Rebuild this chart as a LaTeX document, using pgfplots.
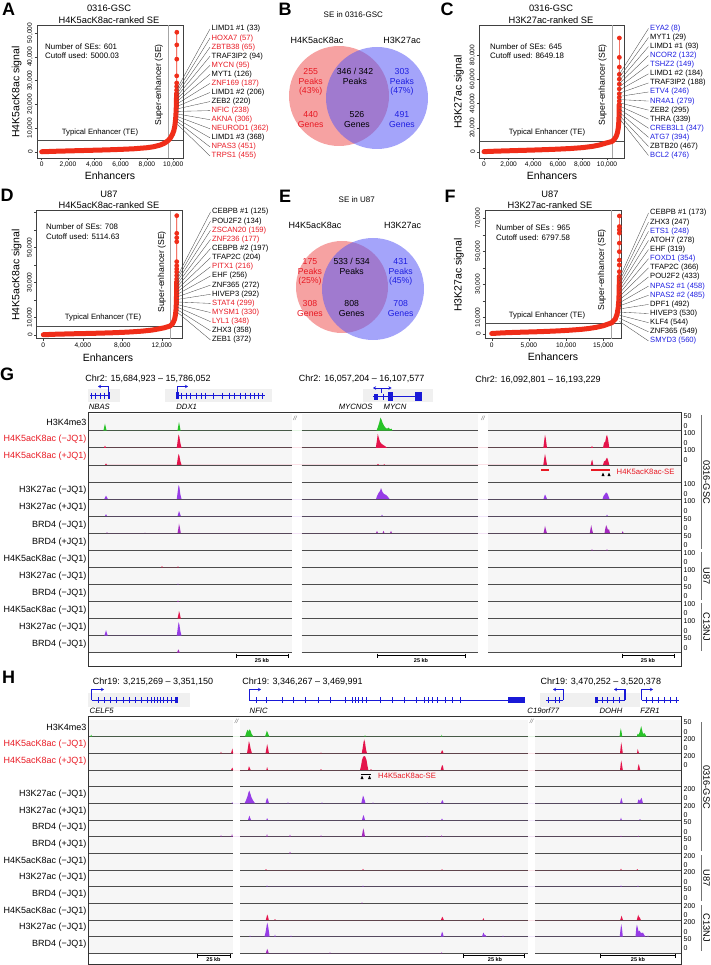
\documentclass[border=0pt]{standalone}
\usepackage{fontspec}
\setmainfont{Liberation Sans}
\usepackage{pgfplots}
\pgfplotsset{compat=1.18}
\usetikzlibrary{arrows.meta}
\newcommand{\fs}[1]{\fontsize{#1}{#1}\selectfont}
\definecolor{cK4}{RGB}{40,195,40}
\definecolor{cH4}{RGB}{228,20,75}
\definecolor{cK27}{RGB}{150,60,230}
\definecolor{cBR}{RGB}{165,40,190}
\definecolor{lred}{RGB}{232,25,35}
\definecolor{lblue}{RGB}{30,30,225}
\definecolor{rk}{RGB}{240,45,25}
\definecolor{gb}{RGB}{25,25,215}
\definecolor{vred}{RGB}{240,100,100}
\definecolor{vblue}{RGB}{90,90,245}
\definecolor{trbg}{RGB}{246,246,246}
\pgfplotsset{rankax/.style={scale only axis, anchor=south west,
  axis line style={black!75, line width=0.5pt},
  tick style={black!75, line width=0.4pt},
  tick align=outside, major tick length=2.5pt,
  xtick pos=left, ytick pos=left, scaled ticks=false,
  tick label style={font=\fs{6.6}},
  yticklabel style={rotate=90, anchor=south, inner sep=1.5pt},
  xticklabel style={inner sep=1.5pt}}}
\newcommand{\trk}[3]{\addplot[draw=none, fill=#1] table[row sep=\\, y expr=\thisrowno{1}-#2] {#3};}
\begin{document}
\begin{tikzpicture}
\useasboundingbox (0,0) rectangle (710pt,-965pt);
% ---------- track backgrounds ----------
\begin{scope}[x=1pt,y=-1pt]
\foreach \a/\b in {88.3/291.7, 301.7/478.3, 488.3/681.7} {
  \fill[trbg] (\a,413.6) rectangle (\b,652.7);
  \foreach \i in {0,...,13} \draw[black!70, line width=0.7pt] (\a,{430.7+17.08*\i}) -- (\b,{430.7+17.08*\i});
}
\foreach \a/\b in {88.3/233.3, 240/528.3, 535/681.7} {
  \fill[trbg] (\a,720) rectangle (\b,953.3);
  \foreach \i in {0,...,13} \draw[black!70, line width=0.7pt] (\a,{736.7+16.66*\i}) -- (\b,{736.7+16.66*\i});
}
\fill[black!6] (88,389) rectangle (120,402);
\fill[black!6] (165,389) rectangle (272,402);
\fill[black!6] (363,389) rectangle (433,402);
\fill[black!6] (88,693) rectangle (190,707);
\fill[black!6] (540,693) rectangle (640,707);
\end{scope}
% ---------- A ----------
\begin{axis}[rankax, at={(37pt,-158pt)}, width=146pt, height=133pt,
  xmin=-357, xmax=10746, ymin=-2520, ymax=53360,
  xtick={0,2000,4000,6000,8000,10000}, xticklabels={0,{2,000},{4,000},{6,000},{8,000},{10,000}},
  ytick={0,10000,20000,30000,40000,50000}, yticklabels={0,{10,000},{20,000},{30,000},{40,000},{50,000}}]
\addplot[black!70, line width=0.5pt] coordinates {(-357,5000)(10746,5000)};
\addplot[black!35, line width=0.5pt] coordinates {(9620,-2520)(9620,53360)};
\addplot[rk, line width=5pt, line join=round, line cap=round] coordinates {(0,100)(1000,300)(2000,450)(3000,600)(4000,750)(5000,900)(6000,1100)(7000,1350)(8000,1800)(8500,2200)(9000,2900)(9300,3600)(9500,4300)(9650,5000)(9800,6000)(9950,7500)(10050,9000)(10120,10800)(10170,13000)(10200,15000)(10220,17000)(10235,19000)(10245,21000)(10252,23000)(10257,24500)};
\addplot[rk, line width=0.7pt, mark=*, mark size=2pt, mark options={fill=rk,draw=rk}] coordinates {(10257,24500)(10260,26000)(10263,27500)(10265,29000)(10268,32000)(10271,39000)(10273,45000)(10275,50300)};
\end{axis}
% ---------- C ----------
\begin{axis}[rankax, at={(479.3pt,-158pt)}, width=144.7pt, height=133pt,
  xmin=-382, xmax=11382, ymin=-4950, ymax=104700,
  xtick={0,2000,4000,6000,8000,10000}, xticklabels={0,{2,000},{4,000},{6,000},{8,000},{10,000}},
  ytick={0,20000,40000,60000,80000}, yticklabels={0,{20,000},{40,000},{60,000},{80,000}}]
\addplot[black!70, line width=0.5pt] coordinates {(-382,8649)(11382,8649)};
\addplot[black!35, line width=0.5pt] coordinates {(10400,-4950)(10400,104700)};
\addplot[rk, line width=5pt, line join=round, line cap=round] coordinates {(0,300)(1000,700)(2000,1000)(3000,1300)(4000,1600)(5000,1950)(6000,2350)(7000,2850)(8000,3600)(8800,4600)(9400,5800)(9900,7300)(10400,8650)(10600,10500)(10750,13000)(10850,16000)(10920,20000)(10960,25000)(10980,30000)(10990,35000)(10995,39000)};
\addplot[rk, line width=0.7pt, mark=*, mark size=2pt, mark options={fill=rk,draw=rk}] coordinates {(10995,39000)(10996,42000)(10997,45000)(10998,48000)(10999,52000)(11000,56000)(11001,60000)(11002,64000)(11003,70000)(11004,78000)(11005,94000)};
\end{axis}
% ---------- D ----------
\begin{axis}[rankax, at={(36.7pt,-338.5pt)}, width=146pt, height=128pt,
  xmin=-670, xmax=14120, ymin=-2000, ymax=71140,
  xtick={0,4000,8000,12000}, xticklabels={0,{4,000},{8,000},{12,000}},
  ytick={0,10000,20000,30000,40000,50000,60000,70000}, yticklabels={0,{10,000},,{30,000},,{50,000},,}]
\addplot[black!70, line width=0.5pt] coordinates {(-670,5114)(14120,5114)};
\addplot[black!35, line width=0.5pt] coordinates {(12830,-2000)(12830,71140)};
\addplot[rk, line width=5pt, line join=round, line cap=round] coordinates {(0,150)(1000,400)(2000,550)(3000,700)(4000,820)(5000,950)(6000,1100)(7000,1280)(8000,1500)(9000,1800)(10000,2200)(11000,2800)(11700,3500)(12300,4200)(12830,5114)(13100,6500)(13300,9000)(13400,12000)(13450,15000)(13480,19000)(13495,23000)(13503,27000)(13508,30300)};
\addplot[rk, line width=0.7pt, mark=*, mark size=2pt, mark options={fill=rk,draw=rk}] coordinates {(13508,30300)(13509,32000)(13510,34000)(13511,36000)(13512,37700)(13513,39600)(13514,41900)(13515,53300)(13516,55600)(13517,58100)(13518,68200)};
\end{axis}
% ---------- F ----------
\begin{axis}[rankax, at={(485pt,-338.5pt)}, width=136.7pt, height=128pt,
  xmin=-900, xmax=17470, ymin=-2720, ymax=74710,
  xtick={0,5000,10000,15000}, xticklabels={0,{5,000},{10,000},{15,000}},
  ytick={0,10000,20000,30000,40000,50000,60000,70000}, yticklabels={0,{10,000},,{30,000},,{50,000},,{70,000}}]
\addplot[black!70, line width=0.5pt] coordinates {(-900,6798)(17470,6798)};
\addplot[black!35, line width=0.5pt] coordinates {(16130,-2720)(16130,74710)};
\addplot[rk, line width=5pt, line join=round, line cap=round] coordinates {(0,300)(1500,700)(3000,950)(4500,1150)(6000,1350)(7500,1600)(9000,1900)(10500,2300)(12000,2800)(13000,3300)(14000,4000)(15000,5000)(16130,6800)(16600,9000)(16850,12000)(17000,16000)(17080,20000)(17120,25000)(17140,30000)(17148,34700)};
\addplot[rk, line width=0.7pt, mark=*, mark size=2pt, mark options={fill=rk,draw=rk}] coordinates {(17148,34700)(17149,37700)(17150,41700)(17151,44700)(17152,49800)(17153,55000)(17154,61000)(17155,63000)(17156,65000)(17157,71400)};
\end{axis}
% ---------- overlay axis: Venn + tracks ----------
\begin{axis}[hide axis, scale only axis, at={(0pt,0pt)}, anchor=north west, width=710pt, height=965pt,
  xmin=0, xmax=710, ymin=-965, ymax=0, clip=false]
\fill[vred, fill opacity=0.6] (axis cs:339,-96) circle[radius=50];
\fill[vblue, fill opacity=0.55] (axis cs:377,-98) circle[radius=51];
\fill[vred, fill opacity=0.6] (axis cs:342,-287) circle[radius=46];
\fill[vblue, fill opacity=0.55] (axis cs:373,-289) circle[radius=51];
% G tracks
\trk{cK4}{430.7}{103.4 0\\104.3 4.2\\105 7\\105.7 4\\106.6 0\\177.4 0\\178.3 5\\179 8.5\\179.7 5\\180.6 0\\376.5 0\\378 4\\379.5 9\\380.5 13\\381.5 11\\382.5 8\\384 5\\385.5 3\\387 2\\388.5 3\\390 1.5\\391.5 2\\392.5 0\\}
\trk{cH4}{447.8}{104 0\\105 2.3\\106 0\\176.8 0\\177.8 8\\178.6 13.5\\179.4 11\\180.3 5\\181.5 0\\375.8 0\\377 8\\377.8 14\\378.8 10\\380 6\\381.5 4\\383 3\\384.5 2\\386 1\\387 0\\543.3 0\\544.3 8\\545 13\\545.8 9\\547 0\\591 0\\592 2\\593 0\\603 0\\604 5\\605.2 6\\606.2 11\\607 13\\608 9\\609.3 0\\}
\trk{cH4}{464.9}{105 0\\106 1.5\\107 0\\176.8 0\\177.8 7\\178.6 11\\179.4 9\\180.3 4\\181.5 0\\377 0\\378 1\\379 0\\383.5 0\\384.3 0.7\\385 0\\543.3 0\\544.3 7\\545 11\\545.8 7\\547 0\\590.8 0\\591.6 4\\592.3 5\\593.2 0\\603 0\\604 3.5\\605.2 4\\606.2 6\\607 7.3\\608 5\\609.3 0\\}
\trk{cK27}{499.0}{104.3 0\\105.3 2\\106 3.3\\106.8 2\\107.8 0\\176.8 0\\177.8 8\\178.6 14\\179.4 12\\180.3 5\\181.5 0\\376 0\\377 3\\378.5 6\\380 8\\381 11\\382.5 7\\384 5\\386 4\\388 2\\389.5 0\\543.5 0\\544.4 3\\545 4.5\\545.8 3\\547 0\\602.5 0\\603.5 3\\605 5\\606 6.5\\607 6\\608 4\\609.5 0\\}
\trk{cK27}{516.1}{105 0\\106 2\\107 0\\177.5 0\\178.4 3\\179 5\\179.8 3\\180.8 0\\381.2 0\\382 1.5\\382.8 0\\606.2 0\\607 1.5\\607.8 0\\}
\trk{cBR}{533.2}{106.2 0\\107 1\\107.8 0\\144.3 0\\145 0.7\\145.7 0\\177.5 0\\178.4 5\\179 9.5\\179.8 6\\180.8 0\\376 0\\377 2.3\\378 0\\382.5 0\\383.5 2.3\\384.5 0\\390 0\\391 2.3\\392 0\\543.5 0\\544.4 4\\545 7.3\\545.8 4\\547 0\\589.8 0\\590.6 5\\591.2 8\\592 4\\593 0\\604.5 0\\605.4 5\\606.2 8\\607 6\\608 3\\609 4\\610 0\\621.8 0\\622.7 2\\623.6 0\\}
\trk{cBR}{550.3}{591.2 0\\592 1\\592.8 0\\606.2 0\\607 1\\607.8 0\\}
\trk{cH4}{567.3}{161.2 0\\162 1.2\\162.8 0\\177.2 0\\178 1\\178.8 0\\}
\trk{cK27}{584.4}{177.2 0\\178 0.8\\178.8 0\\}
\trk{cBR}{601.5}{177.2 0\\178 0.8\\178.8 0\\}
\trk{cH4}{618.6}{177.5 0\\178.4 4\\179 7.5\\179.8 5\\180.8 0\\}
\trk{cK27}{635.7}{104.3 0\\105.3 3\\106 5.5\\106.8 3\\107.8 0\\176.8 0\\177.8 8\\178.6 13.5\\179.4 11\\180.3 5\\181.5 0\\}
\trk{cBR}{652.7}{177 0\\177.8 2\\178.4 3.3\\179.2 1.5\\180 0\\}
% H tracks
\trk{cK4}{736.7}{90.2 0\\91.2 2\\92.2 0\\245 0\\246 3\\247 6\\247.8 7\\248.6 5\\249.5 7.3\\250.5 6\\251.5 3\\253.5 0\\265 0\\266 3\\266.8 6\\267.6 4.5\\268.5 2\\269.5 0\\364.3 0\\365 1.5\\365.7 0\\441 0\\441.7 2\\442.4 0\\619.5 0\\620.2 5\\620.8 8.3\\621.5 5\\622.3 0\\636.8 0\\637.6 3\\638.4 2\\639.5 4\\640.5 8\\641.2 10.5\\642 7\\643 3\\644.5 3.5\\645.5 2\\646.5 0\\}
\trk{cH4}{753.4}{220.3 0\\221 1.5\\221.7 0\\231 0\\231.8 3\\232.4 5\\233.2 0\\247 0\\248 6\\248.9 12.5\\249.8 9\\250.8 4\\252 0\\265.5 0\\266.4 5\\267.1 9.3\\267.9 6\\269 0\\320.3 0\\321 1\\321.7 0\\361.7 0\\362.6 5\\363.5 11\\364.2 14\\365 11\\366 4\\367 0\\440.7 0\\441.5 2\\442.1 3.3\\442.9 2\\443.6 0\\620 0\\620.6 6\\621.2 11\\621.9 7\\622.8 0\\637 0\\637.7 4.5\\638.4 2\\639.2 0\\}
\trk{cH4}{770.0}{231 0\\231.8 1.5\\232.4 2.5\\233.2 0\\248 0\\248.9 3.7\\249.8 2\\250.6 0\\266.3 0\\267.1 3\\268 0\\320.3 0\\321 1\\321.7 0\\360 0\\361 4\\362 10\\363 13\\364 14\\365.2 13.5\\366.5 10\\367.5 4\\368.3 0\\370.3 0\\371 1\\371.7 0\\440.7 0\\441.5 3\\442.1 5\\442.9 4\\443.7 0\\620 0\\620.6 5\\621.2 9.5\\621.9 6\\622.8 0\\637.5 0\\638.2 4\\638.8 6\\639.5 3\\640.3 0\\}
\trk{cK27}{803.3}{231.5 0\\232.2 1\\232.9 0\\244.5 0\\246 3\\247.5 7\\248.5 11\\249.3 12.7\\250.2 10\\251.5 6\\253 3\\255 0\\265.5 0\\266.4 3.5\\267.1 5.5\\267.9 4\\269 0\\287.3 0\\288 1\\288.7 0\\321.3 0\\322 1\\322.7 0\\361.3 0\\362.2 4\\363 7.7\\363.8 6\\364.7 3\\365.5 0\\372.3 0\\373 1\\373.7 0\\426.7 0\\427.3 0.7\\428 0\\440.9 0\\441.7 2\\442.3 3.3\\443 2\\443.8 0\\620 0\\620.7 3\\621.3 5.5\\622 3\\622.8 0\\637.4 0\\638.2 3\\638.8 4\\639.6 2.5\\640.4 3.5\\641.3 5.5\\642 4\\643 0\\}
\trk{cK27}{820.0}{248 0\\248.8 2.5\\249.4 4.3\\250.2 2\\251 0\\266.3 0\\267.1 2\\268 0\\362 0\\362.8 3\\363.4 5\\364.2 3\\365 0\\441.2 0\\442 1.5\\442.8 0\\620.2 0\\621 2.5\\621.8 0\\639.3 0\\640 1\\640.7 0\\}
\trk{cBR}{836.7}{220.3 0\\221 1.5\\221.7 0\\231.3 0\\232 2.5\\232.8 0\\266.2 0\\267 2.5\\267.8 0\\289.2 0\\290 2\\290.8 0\\320.3 0\\321 1.5\\321.7 0\\361.7 0\\362.5 4\\363.2 8.3\\364 6\\365 0\\426.3 0\\427 1\\427.7 0\\441 0\\441.7 1.5\\442.4 0\\620.3 0\\621 1\\621.7 0\\637.6 0\\638.3 1\\639 0\\}
\trk{cBR}{853.3}{289.2 0\\290 1.5\\290.8 0\\}
\trk{cH4}{870.0}{265.3 0\\266 1\\266.7 0\\362.3 0\\363 1.2\\363.7 0\\441.3 0\\442 0.8\\442.7 0\\620.3 0\\621 1.5\\621.7 0\\636.6 0\\637.3 1\\638 0\\}
\trk{cK27}{886.6}{266.3 0\\267 1.2\\267.7 0\\362.3 0\\363 1\\363.7 0\\620.3 0\\621 1.2\\621.7 0\\637.3 0\\638 1\\638.7 0\\}
\trk{cBR}{903.3}{361.3 0\\362 1\\362.7 0\\}
\trk{cH4}{920.0}{265.8 0\\266.6 3\\267.2 5.5\\268 3.5\\268.8 0\\274.3 0\\275 1\\275.7 0\\440.9 0\\441.7 2\\442.3 3.3\\443 2\\443.8 0\\482.6 0\\483.4 2\\484.1 0\\620.2 0\\621 2.5\\621.5 4.3\\622.3 2\\623 0\\636.8 0\\637.6 3\\638.2 5.3\\639 3\\640 2\\640.8 0\\}
\trk{cK27}{936.6}{249.3 0\\250 1\\250.7 0\\264.5 0\\265.5 4\\266.5 10\\267.2 14\\268 11\\268.8 6\\269.6 0\\274.3 0\\275 2\\275.7 0\\290.3 0\\291 1\\291.7 0\\440.7 0\\441.5 3\\442.1 5\\442.9 3\\443.7 0\\482 0\\482.8 2.5\\483.5 4\\484.3 2\\485.5 1.5\\486.5 0\\502.3 0\\503 1\\503.7 0\\619.7 0\\620.5 7\\621.2 12.5\\622 8\\622.8 0\\635.5 0\\636.2 8\\636.9 12\\637.7 9\\638.6 5\\639.7 6\\640.6 4\\642 3.5\\643 4\\644 2\\645.5 0\\647.3 0\\648 1\\648.7 0\\}
\trk{cBR}{953.3}{265.8 0\\266.6 2.5\\267.2 4.5\\268 2.5\\268.8 0\\329.3 0\\330 1\\330.7 0\\441 0\\441.7 1\\442.4 0\\}
\end{axis}
% ---------- annotations ----------
\begin{scope}[x=1pt,y=-1pt, every node/.style={inner sep=0pt}]
\foreach \L/\x/\y in {A/8.5/9, B/285/9, C/447/9, D/7/195, E/285/196, F/450/196, G/7/374, H/8.5/677}
  \node[font=\fs{18}\bfseries] at (\x,\y) {\L};
% rank titles
\node[font=\fs{9.3}] at (109,8.5) {0316-GSC};
\node[font=\fs{9.3}] at (109,20) {H4K5acK8ac-ranked SE};
\node[font=\fs{9.3}] at (551,8.5) {0316-GSC};
\node[font=\fs{9.3}] at (551,20) {H3K27ac-ranked SE};
\node[font=\fs{9.3}] at (109,194) {U87};
\node[font=\fs{9.3}] at (109,205.5) {H4K5acK8ac-ranked SE};
\node[font=\fs{9.3}] at (550,194) {U87};
\node[font=\fs{9.3}] at (550,205.5) {H3K27ac-ranked SE};
\node[font=\fs{10.5}, rotate=90] at (16.7,92) {H4K5acK8ac signal};
\node[font=\fs{10.5}, rotate=90] at (459,92) {H3K27ac signal};
\node[font=\fs{10.5}, rotate=90] at (16.7,275) {H4K5acK8ac signal};
\node[font=\fs{10.5}, rotate=90] at (459,275) {H3K27ac signal};
\node[font=\fs{10.5}] at (110,175.5) {Enhancers};
\node[font=\fs{10.5}] at (552,175.5) {Enhancers};
\node[font=\fs{10.5}] at (108,357.5) {Enhancers};
\node[font=\fs{10.5}] at (553,357) {Enhancers};
\node[anchor=west, font=\fs{7.9}] at (45,46.5) {Number of SEs: 601};
\node[anchor=west, font=\fs{7.9}] at (45,55.5) {Cutoff used: 5000.03};
\node[anchor=west, font=\fs{7.9}] at (490,46.5) {Number of SEs: 645};
\node[anchor=west, font=\fs{7.9}] at (490,55.5) {Cutoff used: 8649.18};
\node[anchor=west, font=\fs{7.9}] at (46,227) {Number of SEs: 708};
\node[anchor=west, font=\fs{7.9}] at (46,237) {Cutoff used: 5114.63};
\node[anchor=west, font=\fs{7.9}] at (496,227.3) {Number of SEs : 965};
\node[anchor=west, font=\fs{7.9}] at (496,237.7) {Cutoff used: 6797.58};
\node[font=\fs{7.7}] at (100,132.5) {Typical Enhancer (TE)};
\node[font=\fs{7.7}] at (547,133) {Typical Enhancer (TE)};
\node[font=\fs{7.7}] at (103,318) {Typical Enhancer (TE)};
\node[font=\fs{7.7}] at (547,315.3) {Typical Enhancer (TE)};
\node[font=\fs{8.6}, rotate=90] at (159,85) {Super-enhancer (SE)};
\node[font=\fs{8.6}, rotate=90] at (602.7,85) {Super-enhancer (SE)};
\node[font=\fs{8.6}, rotate=90] at (162,272) {Super-enhancer (SE)};
\node[font=\fs{8.6}, rotate=90] at (602,270) {Super-enhancer (SE)};
% label lists
\foreach \t/\c [count=\k from 0] in {LIMD1 \#1 (33)/black, HOXA7 (57)/lred, ZBTB38 (65)/lred, TRAF3IP2 (94)/black, MYCN (95)/lred, MYT1 (126)/black, ZNF169 (187)/lred, LIMD1 \#2 (206)/black, ZEB2 (220)/black, NFIC (238)/lred, AKNA (306)/lred, NEUROD1 (362)/lred, LIMD1 \#3 (368)/black, NPAS3 (451)/lred, TRPS1 (455)/lred} {
  \node[anchor=west, font=\fs{7.6}, text=\c] at (211.5,{29+9.07*\k}) {\t};
  \draw[black!70, line width=0.35pt] (210,{29+9.07*\k}) -- (177.5,{88+2.6*\k});
}
\foreach \t/\c [count=\k from 0] in {EYA2 (8)/lblue, MYT1 (29)/black, LIMD1 \#1 (93)/black, NCOR2 (132)/lblue, TSHZ2 (149)/lblue, LIMD1 \#2 (184)/black, TRAF3IP2 (188)/black, ETV4 (246)/lblue, NR4A1 (279)/lblue, ZEB2 (295)/black, THRA (339)/black, CREB3L1 (347)/lblue, ATG7 (394)/lblue, ZBTB20 (467)/black, BCL2 (476)/lblue} {
  \node[anchor=west, font=\fs{7.6}, text=\c] at (650,{28.5+9.07*\k}) {\t};
  \draw[black!70, line width=0.35pt] (648.5,{28.5+9.07*\k}) -- (619.5,{74+3.2*\k});
}
\foreach \t/\c [count=\k from 0] in {CEBPB \#1 (125)/black, POU2F2 (134)/black, ZSCAN20 (159)/lred, ZNF236 (177)/lred, CEBPB \#2 (197)/black, TFAP2C (204)/black, PITX1 (216)/lred, EHF (256)/black, ZNF365 (272)/black, HIVEP3 (292)/black, STAT4 (299)/lred, MYSM1 (330)/lred, LYL1 (348)/lred, ZHX3 (358)/black, ZEB1 (372)/black} {
  \node[anchor=west, font=\fs{7.6}, text=\c] at (212,{212+9.14*\k}) {\t};
  \draw[black!70, line width=0.35pt] (210.5,{212+9.14*\k}) -- (177.5,{276+2.6*\k});
}
\foreach \t/\c [count=\k from 0] in {CEBPB \#1 (173)/black, ZHX3 (247)/black, ETS1 (248)/lblue, ATOH7 (278)/black, EHF (319)/black, FOXD1 (354)/lblue, TFAP2C (366)/black, POU2F2 (433)/black, NPAS2 \#1 (458)/lblue, NPAS2 \#2 (485)/lblue, DPF1 (492)/black, HIVEP3 (530)/black, KLF4 (544)/black, ZNF365 (549)/black, SMYD3 (560)/lblue} {
  \node[anchor=west, font=\fs{7.6}, text=\c] at (650,{213+9.14*\k}) {\t};
  \draw[black!70, line width=0.35pt] (648.5,{213+9.14*\k}) -- (619.5,{278+3.1*\k});
}
% Venn texts
\node[font=\fs{8}] at (353.3,15) {SE in 0316-GSC};
\node[font=\fs{9}] at (317,40) {H4K5acK8ac};
\node[font=\fs{9}] at (402,40) {H3K27ac};
\begin{scope}[every node/.append style={font=\fs{8.7}}]
\node[text=lred] at (310.7,71.7) {255};
\node[text=lred] at (310.7,81.7) {Peaks};
\node[text=lred] at (310.7,91.7) {(43\%)};
\node[text=lred] at (310.7,115) {440};
\node[text=lred] at (310.7,125) {Genes};
\node at (355,71.7) {346 / 342};
\node at (355,81.7) {Peaks};
\node at (357,115) {526};
\node at (357,125) {Genes};
\node[text=lblue] at (402,71.7) {303};
\node[text=lblue] at (402,81.7) {Peaks};
\node[text=lblue] at (402,91.7) {(47\%)};
\node[text=lblue] at (402,115) {491};
\node[text=lblue] at (402,125) {Genes};
\node[text=lred] at (310,261.7) {175};
\node[text=lred] at (310,271.7) {Peaks};
\node[text=lred] at (310,281.7) {(25\%)};
\node[text=lred] at (310,304) {308};
\node[text=lred] at (310,314) {Genes};
\node at (351.7,261.7) {533 / 534};
\node at (351.7,271.7) {Peaks};
\node at (351.7,304) {808};
\node at (351.7,314) {Genes};
\node[text=lblue] at (400.7,261.7) {431};
\node[text=lblue] at (400.7,271.7) {Peaks};
\node[text=lblue] at (400.7,281.7) {(45\%)};
\node[text=lblue] at (400.7,304) {708};
\node[text=lblue] at (400.7,314) {Genes};
\end{scope}
\node[font=\fs{8}] at (356.7,200) {SE in U87};
\node[font=\fs{9}] at (315,225) {H4K5acK8ac};
\node[font=\fs{9}] at (402.7,225) {H3K27ac};
% ---------- G annotations ----------
\node[font=\fs{9}] at (148,379) {Chr2: 15,684,923 – 15,786,052};
\node[font=\fs{9}] at (361.7,379) {Chr2: 16,057,204 – 16,107,577};
\node[font=\fs{9}] at (538,380) {Chr2: 16,092,801 – 16,193,229};
\draw[gb, line width=0.6pt] (90,395.5) -- (110,395.5);
\foreach \x in {91,95,100,104} \draw[gb, line width=0.6pt] (\x,392.5) -- (\x,398.5);
\fill[gb] (107.5,392) rectangle (110,399);
\draw[gb, line width=1.1pt, -{Stealth[length=3pt,width=3.5pt]}] (108.7,392) -- (108.7,386.5) -- (98,386.5);
\draw[gb, line width=0.6pt] (176.5,395.5) -- (265,395.5);
\foreach \x in {181,186,190,196,201,205,213,222,229,234,240,245,250,254,258,262} \draw[gb, line width=0.6pt] (\x,392.5) -- (\x,398.5);
\fill[gb] (176,392) rectangle (178.5,399);
\draw[gb, line width=1.1pt, -{Stealth[length=3pt,width=3.5pt]}] (177.3,392) -- (177.3,386.5) -- (188,386.5);
\draw[gb, line width=0.6pt] (373,396.5) -- (422,396.5);
\fill[gb] (374,393.5) rectangle (378,399.5);
\fill[gb] (388.3,392) rectangle (393.3,401);
\fill[gb] (415,392) rectangle (421.7,401);
\draw[gb, line width=0.6pt] (383.3,393.5) -- (383.3,399.5);
\draw[gb, line width=1pt, -{Stealth[length=3pt,width=3.5pt]}] (381.5,393) -- (381.5,388) -- (373,388);
\draw[gb, line width=1pt, -{Stealth[length=3pt,width=3.5pt]}] (381.5,388) -- (391.5,388);
\node[font=\fs{7.7}\itshape] at (99.3,407.3) {NBAS};
\node[font=\fs{7.7}\itshape] at (186.7,407.3) {DDX1};
\node[font=\fs{7.7}\itshape] at (355.7,407.3) {MYCNOS};
\node[font=\fs{7.7}\itshape] at (395,407.3) {MYCN};
\node[font=\fs{6}\itshape, text=black!60] at (295,418) {//};
\node[font=\fs{6}\itshape, text=black!60] at (483,418) {//};
\draw[black!80, line width=1pt] (88.3,412.7) rectangle (681.7,666);
\foreach \t/\c [count=\i from 0] in {H3K4me3/black, H4K5acK8ac (−JQ1)/lred, H4K5acK8ac (+JQ1)/lred, {}/black, H3K27ac (−JQ1)/black, H3K27ac (+JQ1)/black, BRD4 (−JQ1)/black, BRD4 (+JQ1)/black, H4K5acK8ac (−JQ1)/black, H3K27ac (−JQ1)/black, BRD4 (−JQ1)/black, H4K5acK8ac (−JQ1)/black, H3K27ac (−JQ1)/black, BRD4 (−JQ1)/black}
  \node[anchor=east, font=\fs{9}, text=\c] at (86.5,{430.7+17.08*\i-8.5}) {\t};
\foreach \i/\v in {0/50,1/100,2/100,4/100,5/100,6/50,7/50,8/100,9/100,10/50,11/100,12/100,13/50} {
  \node[anchor=west, font=\fs{7}] at (683.5,{430.7+17.08*\i-17.08+2.5}) {\v};
  \node[anchor=west, font=\fs{7}] at (683.5,{430.7+17.08*\i-5}) {0};
}
\draw[lred, line width=1.3pt] (541,470) -- (548.5,470);
\draw[lred, line width=1.3pt] (591,470) -- (610,470);
\fill[black] (601.5,476) -- (603,472.5) -- (604.5,476) -- cycle;
\fill[black] (607.5,476) -- (609,472.5) -- (610.5,476) -- cycle;
\node[anchor=west, text=lred, font=\fs{7.7}] at (616.5,472) {H4K5acK8ac-SE};
\foreach \a/\b/\m in {236/288/262, 377/465/421, 622/674/648} {
  \draw[black, line width=0.8pt] (\a,655.5) -- (\b,655.5);
  \draw[black, line width=0.8pt] (\a,653.5) -- (\a,657.5);
  \draw[black, line width=0.8pt] (\b,653.5) -- (\b,657.5);
  \node[font=\fs{5.5}\bfseries] at (\m,660.5) {25 kb};
}
\draw[black!55, line width=1pt] (701.5,415) -- (701.5,549);
\draw[black!55, line width=1pt] (701.5,552) -- (701.5,600);
\draw[black!55, line width=1pt] (701.5,603) -- (701.5,651);
\node[rotate=-90, font=\fs{9.3}] at (706.5,482) {0316-GSC};
\node[rotate=-90, font=\fs{9.3}] at (706.5,576) {U87};
\node[rotate=-90, font=\fs{9.3}] at (706.5,627) {C13NJ};
% ---------- H annotations ----------
\node[font=\fs{9}] at (153,681.7) {Chr19: 3,215,269 – 3,351,150};
\node[font=\fs{9}] at (302.5,681.7) {Chr19: 3,346,267 – 3,469,991};
\node[font=\fs{9}] at (600.8,681.7) {Chr19: 3,470,252 – 3,520,378};
\draw[gb, line width=0.6pt] (91.7,700) -- (178.3,700);
\foreach \x in {98,104,110,116,123,129,135,141,147,151,154,157,160,163,167,171} \draw[gb, line width=0.6pt] (\x,697) -- (\x,703);
\fill[gb] (174.8,697) rectangle (178.3,703);
\draw[gb, line width=1.1pt, -{Stealth[length=3pt,width=3.5pt]}] (91.7,700) -- (91.7,689.5) -- (104,689.5);
\draw[gb, line width=0.6pt] (249.3,700) -- (525,700);
\foreach \x in {256,266,282,293,305,318,330,345,352,355,358,362,366,380,392,404,416,424,428,432,437,445,452,460} \draw[gb, line width=0.6pt] (\x,697) -- (\x,703);
\fill[gb] (508,697) rectangle (525,703);
\draw[gb, line width=1.1pt, -{Stealth[length=3pt,width=3.5pt]}] (249.3,700) -- (249.3,689.5) -- (261,689.5);
\draw[gb, line width=0.6pt] (546,700) -- (563.3,700);
\foreach \x in {548,555,559} \draw[gb, line width=0.6pt] (\x,697) -- (\x,703);
\draw[gb, line width=1.1pt, -{Stealth[length=3pt,width=3.5pt]}] (563.3,700) -- (563.3,689.5) -- (553,689.5);
\draw[gb, line width=0.6pt] (595,700) -- (625,700);
\fill[gb] (594.5,697) rectangle (598,703);
\foreach \x in {602,607,613,619} \draw[gb, line width=0.6pt] (\x,697) -- (\x,703);
\draw[gb, line width=1.1pt, -{Stealth[length=3pt,width=3.5pt]}] (625,700) -- (625,689.5) -- (614,689.5);
\draw[gb, line width=0.6pt] (641.7,700) -- (679,700);
\foreach \x in {646,652,658,664,670,676} \draw[gb, line width=0.6pt] (\x,697) -- (\x,703);
\draw[gb, line width=1.1pt, -{Stealth[length=3pt,width=3.5pt]}] (641.7,700) -- (641.7,689.5) -- (653,689.5);
\node[font=\fs{7.7}\itshape] at (101.7,710.7) {CELF5};
\node[font=\fs{7.7}\itshape] at (258.7,710.7) {NFIC};
\node[font=\fs{7.7}\itshape] at (543.3,710.7) {C19orf77};
\node[font=\fs{7.7}\itshape] at (611,710.7) {DOHH};
\node[font=\fs{7.7}\itshape] at (650,710.7) {FZR1};
\node[font=\fs{6}\itshape, text=black!60] at (236.5,721) {//};
\node[font=\fs{6}\itshape, text=black!60] at (531.5,721) {//};
\draw[black!80, line width=1pt] (88.3,716) rectangle (681.7,964);
\foreach \t/\c [count=\i from 0] in {H3K4me3/black, H4K5acK8ac (−JQ1)/lred, H4K5acK8ac (+JQ1)/lred, {}/black, H3K27ac (−JQ1)/black, H3K27ac (+JQ1)/black, BRD4 (−JQ1)/black, BRD4 (+JQ1)/black, H4K5acK8ac (−JQ1)/black, H3K27ac (−JQ1)/black, BRD4 (−JQ1)/black, H4K5acK8ac (−JQ1)/black, H3K27ac (−JQ1)/black, BRD4 (−JQ1)/black}
  \node[anchor=east, font=\fs{9}, text=\c] at (86.5,{736.7+16.66*\i-9.3}) {\t};
\foreach \i/\v in {0/50,1/200,2/200,4/200,5/200,6/50,7/50,8/200,9/200,10/50,11/200,12/200,13/50} {
  \node[anchor=west, font=\fs{7}] at (683.5,{736.7+16.66*\i-16.66+2.5}) {\v};
  \node[anchor=west, font=\fs{7}] at (683.5,{736.7+16.66*\i-5}) {0};
}
\draw[black, line width=0.8pt] (360.5,774.5) -- (371,774.5);
\fill[black] (360.5,779) -- (362,775.5) -- (363.5,779) -- cycle;
\fill[black] (368,779) -- (369.5,775.5) -- (371,779) -- cycle;
\node[anchor=west, text=lred, font=\fs{7.7}] at (378,775.5) {H4K5acK8ac-SE};
\foreach \a/\b/\m in {197/230/213.5, 463.3/524/495, 600.7/675.7/638} {
  \draw[black, line width=0.8pt] (\a,955.5) -- (\b,955.5);
  \draw[black, line width=0.8pt] (\a,953.5) -- (\a,957.5);
  \draw[black, line width=0.8pt] (\b,953.5) -- (\b,957.5);
  \node[font=\fs{5.5}\bfseries] at (\m,960) {25 kb};
}
\draw[black!55, line width=1pt] (701.5,722) -- (701.5,851);
\draw[black!55, line width=1pt] (701.5,855) -- (701.5,901);
\draw[black!55, line width=1pt] (701.5,905) -- (701.5,951);
\node[rotate=-90, font=\fs{9.3}] at (706.5,787) {0316-GSC};
\node[rotate=-90, font=\fs{9.3}] at (706.5,878) {U87};
\node[rotate=-90, font=\fs{9.3}] at (706.5,928) {C13NJ};
\end{scope}
\end{tikzpicture}
\end{document}
